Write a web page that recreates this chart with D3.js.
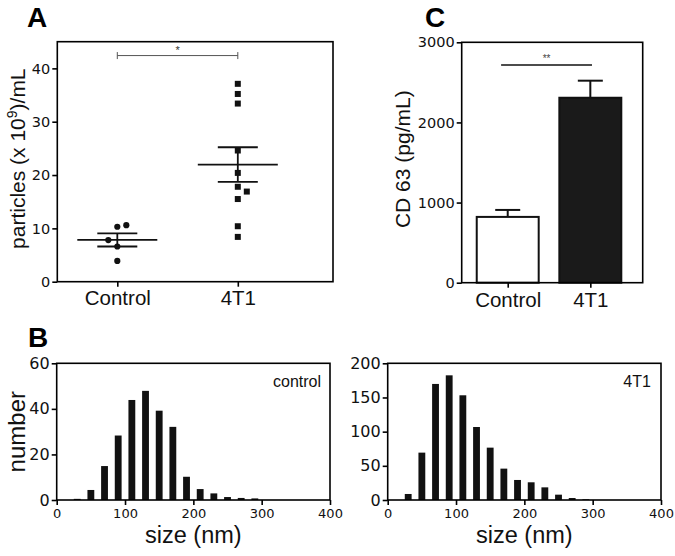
<!DOCTYPE html>
<html><head><meta charset="utf-8">
<script src="https://cdn.jsdelivr.net/npm/d3@7"></script>
<style>body{margin:0;background:#fff} svg{display:block}</style>
</head><body>
<svg id="fig" width="675" height="556"></svg>
<script>
// ---------------- data ----------------
const groups = ["Control", "4T1"];
// Panel A: particle concentration (x 10^9 / mL)
const particlesControl = [3.9, 7.8, 6.6, 10.3, 10.6];
const jitterControl    = [0, -1, 0, 0, 1];
const particles4T1     = [37.1, 35.2, 33.4, 24.6, 20.4, 17.8, 16.9, 15.5, 10.4, 8.4];
const jitter4T1        = [0, 0, 0, 0, 0, 0, 1, 0, 0, 0];
const particleTicks    = [0, 10, 20, 30, 40];
const sigA = {from: 0, to: 1, value: 42.4, label: "*"};

// Panel C: CD63 (pg/mL)
const cd63Mean  = [821, 2308];
const cd63Sem   = [87, 213];
const cd63Ticks = [0, 1000, 2000, 3000];
const sigC = {from: -0.08, to: 1.02, value: 2717, label: "**"};

// Panel B: size distributions
const sizeBins      = [30, 50, 70, 90, 110, 130, 150, 170, 190, 210, 230, 250, 270, 290];
const countsControl = [0.5, 4.4, 14.9, 28.3, 43.9, 47.9, 39.2, 32.1, 10.2, 4.8, 2.9, 1.3, 0.9, 0.7];
const counts4T1     = [8.8, 69.3, 169.8, 182.4, 153.2, 106.8, 76.6, 45.9, 29.3, 25.9, 18.5, 7.8, 2.9, 1.0];
const sizeTicks        = [0, 100, 200, 300, 400];
const countTicksCtrl   = [0, 20, 40, 60];
const countTicks4T1    = [0, 50, 100, 150, 200];
const binWidth = 10;

// ---------------- style ----------------
const SANS = "'Liberation Sans', Arial, sans-serif";
const NUM  = "'DejaVu Sans', sans-serif";
const svg = d3.select("#fig");
const SW = 1.6;

function frame(x0, x1, y0, y1) {
  svg.append("rect").attr("x", x0).attr("y", y1).attr("width", x1 - x0).attr("height", y0 - y1)
    .attr("fill", "none").attr("stroke", "#000").attr("stroke-width", SW);
}
function styleAxis(a, font, size) {
  a.select(".domain").remove();
  a.selectAll("line").attr("stroke", "#000").attr("stroke-width", SW);
  a.selectAll("text").style("font-family", font).style("font-size", size + "px").attr("fill", "#111");
}
function yAxis(scale, ticks, x, size) {
  const a = svg.append("g").attr("transform", `translate(${x},0)`)
    .call(d3.axisLeft(scale).tickValues(ticks).tickFormat(d3.format("d")).tickSize(5).tickPadding(2).tickSizeOuter(0));
  styleAxis(a, NUM, size);
}
function xAxis(scale, ticks, y, fmt, font, size, pad) {
  const a = svg.append("g").attr("transform", `translate(0,${y})`)
    .call(d3.axisBottom(scale).tickValues(ticks).tickFormat(fmt).tickSize(5).tickPadding(pad).tickSizeOuter(0));
  styleAxis(a, font, size);
}
function label(text, x, y, size, opts = {}) {
  const t = svg.append("text").attr("x", x).attr("y", y).text(text)
    .style("font-family", opts.font || SANS).style("font-size", size + "px")
    .attr("fill", opts.fill || "#111").attr("text-anchor", opts.anchor || "start");
  if (opts.bold) t.style("font-weight", "bold");
  if (opts.rotate) t.attr("transform", `rotate(-90,${x},${y})`);
  return t;
}

// ---------------- Panel A ----------------
{
  const L = 57.3, R = 333, T = 41.7, B = 281.7;
  const x = d3.scaleLinear().domain([-0.498, 1.79]).range([L, R]);
  const y = d3.scaleLinear().domain([0, 45]).range([B, T]);
  const jitterPx = 9, meanHalf = 40, semHalf = 20;

  const sets = [
    {vals: particlesControl, jit: jitterControl, shape: "circle"},
    {vals: particles4T1, jit: jitter4T1, shape: "square"}
  ];
  sets.forEach((s, i) => {
    const cx = x(i);
    const m = d3.mean(s.vals);
    const sem = d3.deviation(s.vals) / Math.sqrt(s.vals.length);
    const g = svg.append("g").attr("stroke", "#111").attr("stroke-width", 1.8);
    g.append("line").attr("x1", cx - meanHalf).attr("x2", cx + meanHalf).attr("y1", y(m)).attr("y2", y(m));
    g.append("line").attr("x1", cx - semHalf).attr("x2", cx + semHalf).attr("y1", y(m + sem)).attr("y2", y(m + sem));
    g.append("line").attr("x1", cx - semHalf).attr("x2", cx + semHalf).attr("y1", y(m - sem)).attr("y2", y(m - sem));
    g.append("line").attr("x1", cx).attr("x2", cx).attr("y1", y(m + sem)).attr("y2", y(m - sem));
    const pts = s.vals.map((v, k) => ({v, j: s.jit[k]}));
    if (s.shape === "circle") {
      svg.append("g").selectAll("circle").data(pts).join("circle")
        .attr("cx", d => cx + d.j * jitterPx).attr("cy", d => y(d.v)).attr("r", 3.1).attr("fill", "#111");
    } else {
      svg.append("g").selectAll("rect").data(pts).join("rect")
        .attr("x", d => cx + d.j * jitterPx - 3).attr("y", d => y(d.v) - 3)
        .attr("width", 6).attr("height", 6).attr("fill", "#111");
    }
  });

  // significance bracket
  const gy = y(sigA.value);
  const sg = svg.append("g").attr("stroke", "#555").attr("stroke-width", 1);
  sg.append("line").attr("x1", x(sigA.from)).attr("x2", x(sigA.to)).attr("y1", gy).attr("y2", gy);
  sg.append("line").attr("x1", x(sigA.from)).attr("x2", x(sigA.from)).attr("y1", gy - 3.5).attr("y2", gy + 3.5);
  sg.append("line").attr("x1", x(sigA.to)).attr("x2", x(sigA.to)).attr("y1", gy - 3.5).attr("y2", gy + 3.5);
  label(sigA.label, (x(sigA.from) + x(sigA.to)) / 2, gy - 1.5, 11, {anchor: "middle", fill: "#333"});

  frame(L, R, B, T);
  yAxis(y, particleTicks, L, 14.5);
  xAxis(x, [0, 1], B, i => groups[i], SANS, 20.5, 3.5);

  const yt = label("", 25, 158.7, 21, {anchor: "middle", rotate: true});
  yt.append("tspan").text("particles (x 10");
  yt.append("tspan").text("9").attr("dy", -8).style("font-size", "14px");
  yt.append("tspan").text(")/mL").attr("dy", 8);
  label("A", 27, 27, 28, {bold: true, fill: "#000"});
}

// ---------------- Panel C ----------------
{
  const L = 461.7, R = 642.7, T = 42.3, B = 282.7;
  const x = d3.scaleLinear().domain([-0.557, 1.634]).range([L, R]);
  const y = d3.scaleLinear().domain([0, 3000]).range([B, T]);
  const bw = 0.75, capHalf = 12.5;
  const fills = ["#fff", "#1a1a1a"];

  groups.forEach((gname, i) => {
    const cx = x(i), top = y(cd63Mean[i] + cd63Sem[i]);
    svg.append("line").attr("x1", cx).attr("x2", cx).attr("y1", y(cd63Mean[i])).attr("y2", top)
      .attr("stroke", "#111").attr("stroke-width", 2);
    svg.append("line").attr("x1", cx - capHalf).attr("x2", cx + capHalf).attr("y1", top).attr("y2", top)
      .attr("stroke", "#111").attr("stroke-width", 2);
  });
  svg.append("g").selectAll("rect").data(cd63Mean).join("rect")
    .attr("x", (d, i) => x(i - bw / 2)).attr("width", x(bw) - x(0))
    .attr("y", d => y(d)).attr("height", d => y(0) - y(d))
    .attr("fill", (d, i) => fills[i]).attr("stroke", "#111").attr("stroke-width", 2);

  const gy = y(sigC.value);
  svg.append("line").attr("x1", x(sigC.from)).attr("x2", x(sigC.to)).attr("y1", gy).attr("y2", gy)
    .attr("stroke", "#111").attr("stroke-width", 1.3);
  label(sigC.label, (x(sigC.from) + x(sigC.to)) / 2, gy - 3, 10, {anchor: "middle", fill: "#444"});

  frame(L, R, B, T);
  yAxis(y, cd63Ticks, L, 14.5);
  xAxis(x, [0, 1], B, i => groups[i], SANS, 20.5, 4.5);

  label("CD 63 (pg/mL)", 410, 159.2, 21, {anchor: "middle", rotate: true});
  label("C", 425, 26.7, 28, {bold: true, fill: "#000"});
}

// ---------------- Panel B ----------------
function histogram(L, R, counts, yMax, yTicks, tag, tagX) {
  const T = 363.3, B = 500;
  const x = d3.scaleLinear().domain([0, 400]).range([L, R]);
  const y = d3.scaleLinear().domain([0, yMax]).range([B, T]);
  svg.append("g").selectAll("rect").data(sizeBins.map((s, i) => ({s, c: counts[i]}))).join("rect")
    .attr("x", d => x(d.s - binWidth / 2)).attr("width", x(binWidth) - x(0))
    .attr("y", d => y(d.c)).attr("height", d => y(0) - y(d.c)).attr("fill", "#111");
  frame(L, R, B, T);
  yAxis(y, yTicks, L, 16);
  xAxis(x, sizeTicks, B, d3.format("d"), NUM, 13, 4);
  label("size (nm)", (L + R) / 2, 543.3, 23.5, {anchor: "middle"});
  label(tag, tagX, 386.7, 16);
}
histogram(56.7, 330, countsControl, 60, countTicksCtrl, "control", 273);
histogram(387.7, 661, counts4T1, 200, countTicks4T1, "4T1", 623.3);
label("number", 25, 431.7, 24, {anchor: "middle", rotate: true});
label("B", 28, 347, 28, {bold: true, fill: "#000"});
</script>
</body></html>
